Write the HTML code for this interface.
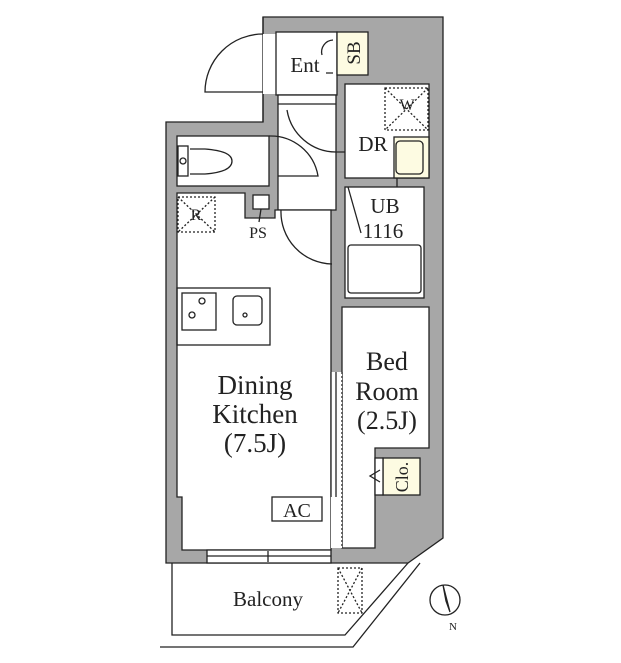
<!DOCTYPE html>
<html><head><meta charset="utf-8"><style>html,body{margin:0;padding:0;background:#fff}svg{display:block}text{font-family:"Liberation Serif",serif;fill:#222}</style></head><body>
<svg width="621" height="663" viewBox="0 0 621 663" xmlns="http://www.w3.org/2000/svg">
<g stroke="#222" stroke-width="1.3" fill="none">
<path d="M263,17 H443 V538 L408,563 H166 V122 H263 Z" fill="#a7a7a7"/>
<rect x="263" y="34" width="14" height="60" fill="#fff" stroke="none"/>
<line x1="263" y1="17" x2="263" y2="34"/><line x1="263" y1="94" x2="263" y2="122"/>
<rect x="276" y="32" width="61" height="63" fill="#fff"/>
<rect x="337" y="32" width="31" height="43" fill="#fdfbe2"/>
<rect x="278" y="95" width="58" height="115" fill="#fff"/>
<line x1="278" y1="104" x2="336" y2="104"/>
<rect x="345" y="84" width="84" height="94" fill="#fff"/>
<rect x="345" y="187" width="79" height="111" fill="#fff"/>
<rect x="177" y="136" width="92" height="50" fill="#fff"/>
<path d="M177,193 H245 V218 H275 V210 H331 V550 H182 V497 H177 Z" fill="#fff"/>
<rect x="253" y="195" width="16" height="14" fill="#fff"/>
<path d="M342,307 H429 V448 H375 V548 H342 Z" fill="#fff"/>
<rect x="383" y="458" width="37" height="37" fill="#fdfbe2"/>
<rect x="375" y="458" width="8" height="37" fill="#fff"/>
<path d="M380,470 L370,476 L380,482"/>
<rect x="331" y="372" width="11" height="176" fill="#fff" stroke="none"/>
<line x1="331" y1="372" x2="331" y2="497"/><line x1="336" y1="372" x2="336" y2="497"/>
<line x1="342" y1="372" x2="342" y2="548" stroke-dasharray="2,2"/>
<rect x="207" y="550" width="124" height="13" fill="#fff"/>
<line x1="207" y1="556" x2="331" y2="556"/><line x1="268" y1="551" x2="268" y2="562"/>
<path d="M172,563 V635 H345 L408,563"/>
<path d="M160,647 H353 L420,563"/>
<rect x="338" y="568" width="24" height="45" stroke-dasharray="2,2"/>
<path d="M338,568 L362,613 M362,568 L338,613" stroke-dasharray="2,2"/>
<circle cx="445" cy="600" r="15"/>
<path d="M443,585 L450,612 L446,601 Z" fill="#222"/>
<path d="M263,34 A58,58 0 0 0 205,92 H263"/>
<path d="M287,110 A50,50 0 0 0 336,152 H345"/>
<path d="M269,136 A48,48 0 0 1 318,176 H278"/>
<path d="M281,210 A52,52 0 0 0 332,264"/>
<path d="M322,55 A12,12 0 0 1 333,40 M333,73 H326"/>
<rect x="385" y="88" width="43" height="42" stroke-dasharray="2,2"/>
<path d="M385,88 L428,130 M428,88 L385,130" stroke-dasharray="2,2"/>
<rect x="394" y="137" width="35" height="41" fill="#fdfbe2"/>
<rect x="396" y="141" width="27" height="33" rx="4"/>
<rect x="348" y="245" width="73" height="48" rx="3"/>
<path d="M348,187 L361,233"/><path d="M397,178 V187"/>
<rect x="178" y="197" width="37" height="35" stroke-dasharray="2,2"/>
<path d="M178,197 L215,232 M215,197 L178,232" stroke-dasharray="2,2"/>
<line x1="261" y1="209" x2="259" y2="222"/>
<rect x="178" y="146" width="10" height="30"/>
<circle cx="183" cy="161" r="3"/>
<path d="M190,149 H205 Q232,151 232,161 Q232,172 205,174 H190"/>
<rect x="177" y="288" width="93" height="57"/>
<rect x="182" y="293" width="34" height="37"/>
<circle cx="202" cy="301" r="3"/><circle cx="192" cy="315" r="3"/>
<rect x="233" y="296" width="29" height="29" rx="4"/>
<circle cx="245" cy="315" r="2"/>
<rect x="272" y="497" width="50" height="24"/>
</g>
<text x="305" y="72" font-size="21" text-anchor="middle">Ent</text>
<text transform="translate(360,53) rotate(-90)" font-size="19" text-anchor="middle">SB</text>
<text x="373" y="151" font-size="21" text-anchor="middle">DR</text>
<text x="407" y="110" font-size="16" text-anchor="middle">W</text>
<text x="385" y="213" font-size="21" text-anchor="middle">UB</text>
<text x="383" y="238" font-size="21" text-anchor="middle">1116</text>
<text x="196" y="220" font-size="16" text-anchor="middle">R</text>
<text x="258" y="238" font-size="16" text-anchor="middle">PS</text>
<text x="255" y="394" font-size="27" text-anchor="middle">Dining</text>
<text x="255" y="423" font-size="27" text-anchor="middle">Kitchen</text>
<text x="255" y="452" font-size="27" text-anchor="middle">(7.5J)</text>
<text x="387" y="370" font-size="26" text-anchor="middle">Bed</text>
<text x="387" y="400" font-size="26" text-anchor="middle">Room</text>
<text x="387" y="429" font-size="26" text-anchor="middle">(2.5J)</text>
<text transform="translate(408,477) rotate(-90)" font-size="18" text-anchor="middle">Clo.</text>
<text x="297" y="517" font-size="20" text-anchor="middle">AC</text>
<text x="268" y="606" font-size="21" text-anchor="middle">Balcony</text>
<text x="453" y="630" font-size="11" text-anchor="middle">N</text>
</svg>
</body></html>
